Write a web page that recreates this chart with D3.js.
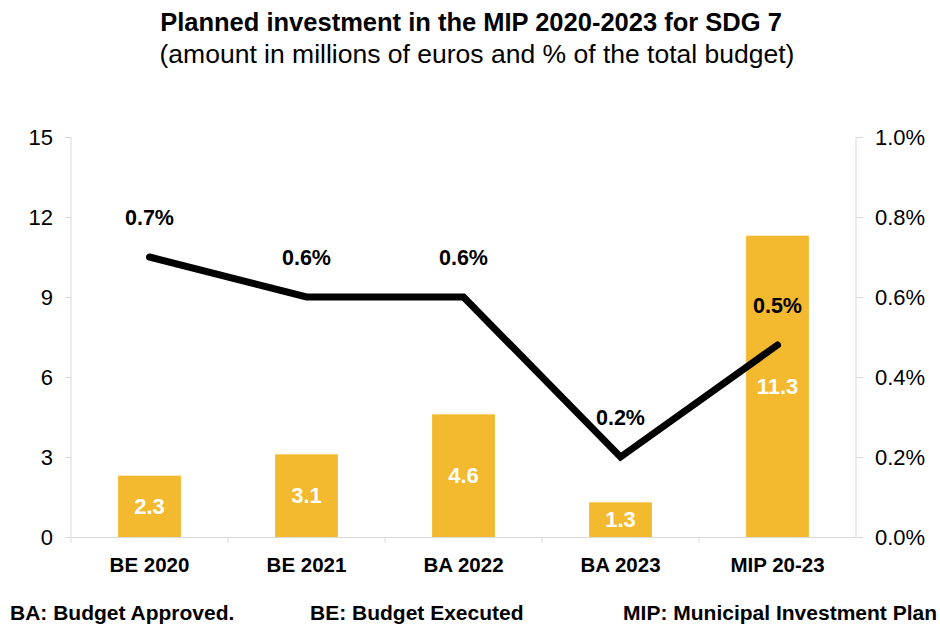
<!DOCTYPE html>
<html>
<head>
<meta charset="utf-8">
<script src="https://cdn.jsdelivr.net/npm/d3@7"></script>
<style>
  body { margin: 0; background: #ffffff; }
  svg text { font-family: "Liberation Sans", Arial, Helvetica, sans-serif; }
</style>
</head>
<body>
<div id="visual"></div>
<script>
// Chart data
const categories = ["BE 2020", "BE 2021", "BA 2022", "BA 2023", "MIP 20-23"];
const amounts = [2.3, 3.1, 4.6, 1.3, 11.3];          // millions of euros
const shares = [0.0070, 0.0060, 0.0060, 0.0020, 0.0048]; // share of total budget
const leftTicks = [0, 3, 6, 9, 12, 15];
const rightTicks = [0, 0.002, 0.004, 0.006, 0.008, 0.010];
const footnotes = ["BA: Budget Approved.", "BE: Budget Executed", "MIP: Municipal Investment Plan"];

const width = 940;
const height = 625;
const margin = { top: 137, right: 84, bottom: 88, left: 71 };
const innerW = width - margin.left - margin.right;
const innerH = height - margin.top - margin.bottom;

const axisColor = "#d9d9d9";
const barColor = "#f3b92f";

const svg = d3.select("#visual")
  .append("svg")
  .attr("width", width)
  .attr("height", height);

// Title
svg.append("text")
  .attr("x", 471).attr("y", 31)
  .attr("text-anchor", "middle")
  .style("font-size", "25.5px").style("font-weight", "bold")
  .text("Planned investment in the MIP 2020-2023 for SDG 7");
svg.append("text")
  .attr("x", 477).attr("y", 63)
  .attr("text-anchor", "middle")
  .style("font-size", "26.5px")
  .text("(amount in millions of euros and % of the total budget)");

const g = svg.append("g")
  .attr("transform", "translate(" + margin.left + "," + margin.top + ")");

// Scales
const xBand = d3.scaleBand().domain(categories).range([0, innerW]);
const yLeft = d3.scaleLinear().domain([0, 15]).range([innerH, 0]);
const yRight = d3.scaleLinear().domain([0, 0.01]).range([innerH, 0]);

// Bars
g.selectAll("rect.bar")
  .data(amounts)
  .enter()
  .append("rect")
  .attr("class", "bar")
  .attr("x", (d, i) => xBand(categories[i]) + xBand.bandwidth() * 0.3)
  .attr("width", xBand.bandwidth() * 0.4)
  .attr("y", d => yLeft(d))
  .attr("height", d => innerH - yLeft(d))
  .style("fill", barColor);

// Bar value labels
g.selectAll("text.barlabel")
  .data(amounts)
  .enter()
  .append("text")
  .attr("class", "barlabel")
  .attr("x", (d, i) => xBand(categories[i]) + xBand.bandwidth() / 2)
  .attr("y", d => yLeft(d / 2))
  .attr("dy", "0.35em")
  .attr("text-anchor", "middle")
  .style("fill", "#ffffff")
  .style("font-size", "22px").style("font-weight", "bold")
  .text(d => d.toFixed(1));

// Left axis
const leftAxis = g.append("g")
  .call(d3.axisLeft(yLeft).tickValues(leftTicks).tickSize(6).tickPadding(12).tickFormat(d3.format("d")));
leftAxis.select(".domain").attr("stroke", axisColor).attr("d", "M0," + (innerH + 6) + "V0");
leftAxis.selectAll(".tick line").attr("stroke", axisColor);
leftAxis.selectAll(".tick text")
  .style("font-size", "22px").style("fill", "#000");

// Right axis
const rightAxis = g.append("g")
  .attr("transform", "translate(" + innerW + ",0)")
  .call(d3.axisRight(yRight).tickValues(rightTicks).tickSize(7).tickPadding(12).tickFormat(d3.format(".1%")));
rightAxis.select(".domain").attr("stroke", axisColor).attr("d", "M0," + innerH + "V0");
rightAxis.selectAll(".tick line").attr("stroke", axisColor);
rightAxis.selectAll(".tick text")
  .style("font-size", "22px").style("fill", "#000");

// Bottom axis with separators between categories
const bottomAxis = g.append("g")
  .attr("transform", "translate(0," + innerH + ")")
  .call(d3.axisBottom(xBand).tickSize(0).tickPadding(20));
bottomAxis.select(".domain").attr("stroke", axisColor);
bottomAxis.selectAll(".tick text")
  .style("font-size", "20.5px").style("font-weight", "bold").style("fill", "#000");
bottomAxis.selectAll("line.sep")
  .data(categories.slice(1))
  .enter()
  .append("line")
  .attr("class", "sep")
  .attr("x1", d => xBand(d)).attr("x2", d => xBand(d))
  .attr("y1", 0).attr("y2", 6)
  .attr("stroke", axisColor);

// Line for share of budget
const line = d3.line()
  .x((d, i) => xBand(categories[i]) + xBand.bandwidth() / 2)
  .y(d => yRight(d));

g.append("path")
  .datum(shares)
  .attr("d", line)
  .attr("fill", "none")
  .attr("stroke", "#000")
  .attr("stroke-width", 7)
  .attr("stroke-linecap", "round")
  .attr("stroke-linejoin", "miter");

g.selectAll("text.pct")
  .data(shares)
  .enter()
  .append("text")
  .attr("class", "pct")
  .attr("x", (d, i) => xBand(categories[i]) + xBand.bandwidth() / 2)
  .attr("y", d => yRight(d) - 40)
  .attr("dy", "0.35em")
  .attr("text-anchor", "middle")
  .style("font-size", "21.5px").style("font-weight", "bold").style("fill", "#000")
  .text(d => d3.format(".1%")(d));

// Footnotes
svg.selectAll("text.note")
  .data(footnotes)
  .enter()
  .append("text")
  .attr("class", "note")
  .attr("x", (d, i) => [10, 310, 937][i])
  .attr("y", 620)
  .attr("text-anchor", (d, i) => i === 2 ? "end" : "start")
  .style("font-size", "21px").style("font-weight", "bold")
  .text(d => d);
</script>
</body>
</html>
